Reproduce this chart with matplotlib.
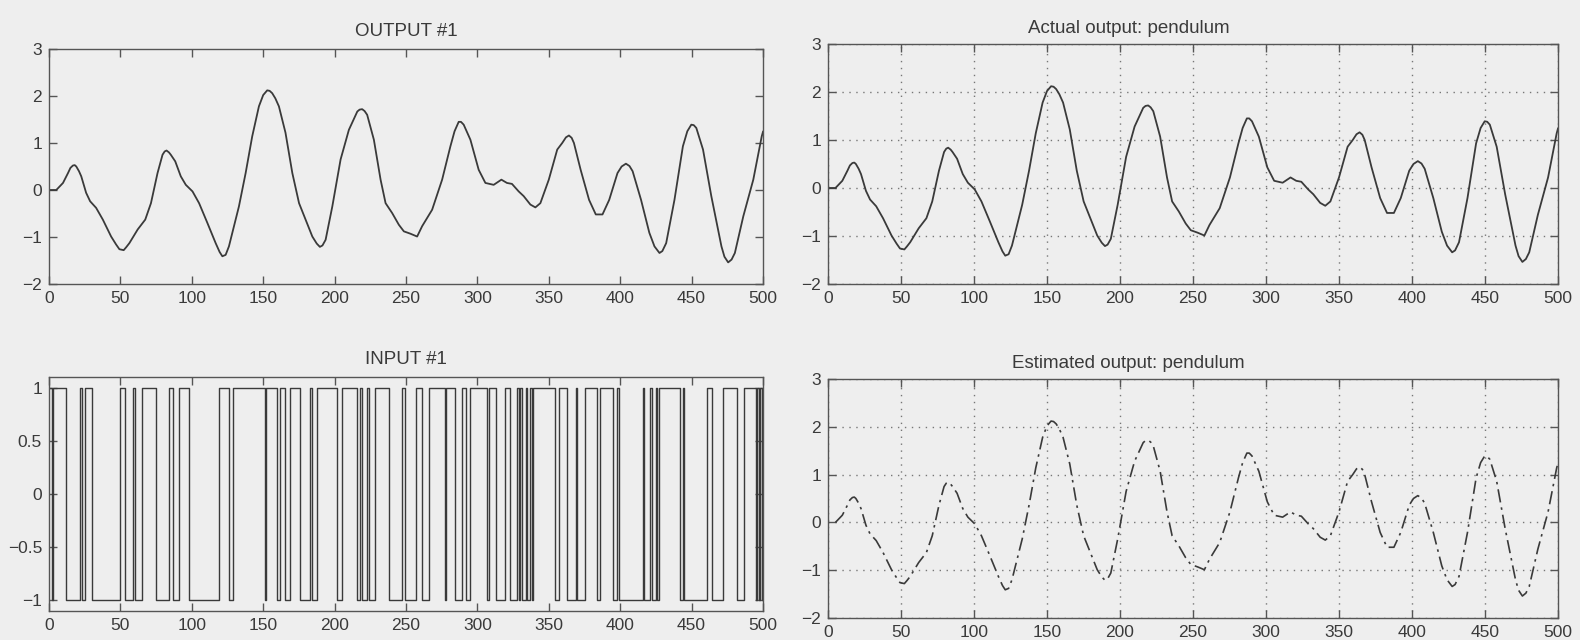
import numpy as np
import matplotlib
matplotlib.use("Agg")
import matplotlib.pyplot as plt

# pendulum output (sample index, value)
y_t = [0, 5.1, 9.8, 13.3, 15, 16.7, 18, 19.1, 21, 22.6, 26, 28.8, 33, 37.7, 43.5, 47,
       49.3, 52.3, 54, 56.3, 62.1, 67.4, 71.4, 76, 79.5, 81, 82.3, 84, 85.3, 88.4, 92.3,
       95.8, 100.5, 105.1, 110.9, 116.7, 119.5, 121.4, 123.7, 126, 128.4, 133, 137.7,
       142.3, 147, 150, 152.8, 154.5, 156.3, 158.5, 161, 165.6, 170.4, 175.1, 179.7,
       184.4, 187.5, 189.7, 191.5, 193.7, 198.4, 204.2, 210, 215.9, 217.5, 219.3, 221,
       222.8, 227.5, 232.2, 235.7, 240.3, 245, 248.5, 253.1, 257.8, 261.3, 268.3,
       275.3, 281.1, 284, 286.9, 288.5, 290.4, 295.1, 300.9, 305.6, 311.4, 316.8,
       320.7, 324.2, 328.9, 332.4, 337.1, 340.6, 344.1, 350, 355.9, 359.4, 362, 364.1,
       366, 367.6, 372.3, 378.2, 382.9, 387.6, 392.3, 398.1, 401, 404, 406.5, 408.7,
       414.6, 420.4, 424, 427.5, 429.5, 432.2, 438, 443.9, 447, 449.8, 451.5, 453.3,
       458, 463.8, 470.9, 473, 475.6, 478, 480.3, 486.2, 493.2, 499.1, 500]
y_val = [0, 0.0, 0.15, 0.36, 0.47, 0.52, 0.53, 0.50, 0.40, 0.29, -0.06, -0.24, -0.38,
         -0.63, -0.99, -1.16, -1.26, -1.28, -1.22, -1.13, -0.84, -0.63, -0.28, 0.36,
         0.75, 0.82, 0.84, 0.80, 0.75, 0.61, 0.29, 0.11, -0.03, -0.28, -0.70, -1.13,
         -1.32, -1.41, -1.38, -1.20, -0.91, -0.35, 0.36, 1.14, 1.78, 2.02, 2.12, 2.11,
         2.06, 1.95, 1.78, 1.22, 0.36, -0.28, -0.63, -0.99, -1.14, -1.21, -1.18, -1.06,
         -0.35, 0.65, 1.28, 1.67, 1.71, 1.72, 1.68, 1.60, 1.07, 0.22, -0.28, -0.49,
         -0.74, -0.88, -0.93, -0.99, -0.77, -0.42, 0.22, 0.93, 1.25, 1.45, 1.45, 1.39,
         1.07, 0.43, 0.15, 0.11, 0.22, 0.15, 0.13, -0.03, -0.13, -0.31, -0.37, -0.28,
         0.22, 0.86, 1.0, 1.12, 1.16, 1.11, 1.0, 0.43, -0.21, -0.52, -0.52, -0.21, 0.36,
         0.50, 0.56, 0.51, 0.40, -0.21, -0.91, -1.20, -1.34, -1.30, -1.13, -0.21, 0.93,
         1.25, 1.39, 1.38, 1.32, 0.86, -0.13, -1.20, -1.42, -1.54, -1.48, -1.34, -0.56,
         0.22, 1.14, 1.24]

# PRBS input: starts at +1, toggles sign at each of these samples
u_start = 1
u_switch = [2, 3, 12, 22, 23, 25, 30, 50, 53, 59, 60, 65, 75, 84, 87, 91, 98, 119, 126,
            129, 151, 152, 160, 162, 165, 169, 176, 183, 184, 188, 202, 205, 216, 218,
            219, 223, 224, 228, 238, 247, 249, 257, 261, 266, 277, 278, 284, 289, 292,
            295, 307, 308, 313, 319, 323, 328, 329, 330, 331, 334, 335, 337, 338, 339,
            354, 357, 363, 369, 370, 375, 384, 386, 395, 398, 399, 416, 417, 421, 422,
            425, 426, 427, 442, 444, 445, 461, 464, 472, 482, 487, 495, 496, 497, 498, 499]
n_samples = 500

xticks = np.arange(0, 501, 50)
bg = "#eeeeee"
ink = "#3a3a3a"

plt.rcParams["font.family"] = ["Liberation Sans", "DejaVu Sans"]
plt.rcParams["font.size"] = 12.5
plt.rcParams["text.color"] = ink
plt.rcParams["axes.edgecolor"] = "#555555"
plt.rcParams["xtick.color"] = "#555555"
plt.rcParams["ytick.color"] = "#555555"
plt.rcParams["xtick.labelcolor"] = ink
plt.rcParams["ytick.labelcolor"] = ink
plt.rcParams["lines.solid_joinstyle"] = "round"

fig = plt.figure(figsize=(15.8, 6.4), dpi=100, facecolor=bg)
W, H = 1580, 640


def box(x0, x1, ytop, ybot):
    return fig.add_axes([x0 / W, 1 - ybot / H, (x1 - x0) / W, (ybot - ytop) / H])


def style(ax, yticks, ylim, grid=False):
    ax.set_facecolor(bg)
    ax.set_xlim(0, 500)
    ax.set_ylim(*ylim)
    ax.set_xticks(xticks)
    ax.set_yticks(yticks)
    ax.tick_params(direction="in", length=6, width=1, top=True, right=True, pad=5)
    for s in ax.spines.values():
        s.set_linewidth(1)
    if grid:
        ax.grid(True, linestyle=(0, (1, 4)), color="#777777", linewidth=1)


ax_y = box(49, 763, 49, 284)
ax_u = box(49, 763, 377, 611)
ax_act = box(828, 1558, 44, 284)
ax_est = box(828, 1558, 379, 618)

title_kw = dict(fontsize=13.5)

# measured output
ax_y.plot(y_t, y_val, color=ink, lw=1.3)
style(ax_y, range(-2, 4), (-2, 3))
ax_y.set_title("OUTPUT #1", pad=9, **title_kw)

# input as a zero-order hold
edges = [0] + u_switch + [n_samples]
levels = [u_start * (-1) ** i for i in range(len(u_switch) + 1)]
ax_u.step(edges, levels + [levels[-1]], where="post", color=ink, lw=1.0)
style(ax_u, [-1, -0.5, 0, 0.5, 1], (-1.1, 1.1))
ax_u.set_yticklabels(["\u22121", "\u22120.5", "0", "0.5", "1"])
ax_u.set_title("INPUT #1", pad=9, **title_kw)

# actual and estimated pendulum response
ax_act.plot(y_t, y_val, color=ink, lw=1.3)
style(ax_act, range(-2, 4), (-2, 3), grid=True)
ax_act.set_title("Actual output: pendulum", pad=8, x=0.412, **title_kw)

ax_est.plot(y_t[1:], y_val[1:], color=ink, lw=1.2, linestyle=(0, (8, 3, 1.5, 3)))
style(ax_est, range(-2, 4), (-2, 3), grid=True)
ax_est.set_title("Estimated output: pendulum", pad=8, x=0.412, **title_kw)

fig.savefig("out.png", dpi=100, facecolor=bg)
